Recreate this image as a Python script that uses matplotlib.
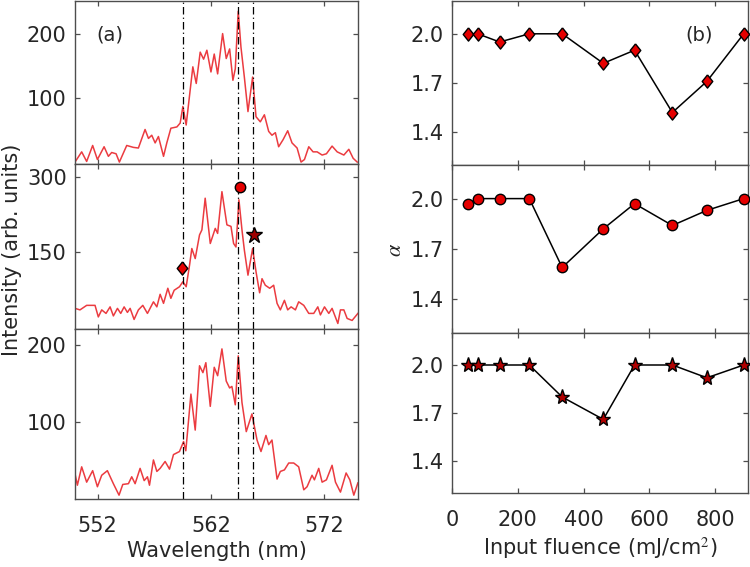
import matplotlib
matplotlib.use("Agg")
import matplotlib.pyplot as plt

plt.rcParams['font.family'] = ['DejaVu Sans']
plt.rcParams['mathtext.fontset'] = 'stix'

# Spectra (wavelength in nm, intensity in arb. units)
wl_top = [550.00, 550.59, 551.03, 551.56, 551.98, 552.57, 552.95, 553.24, 553.63, 553.92,
          554.57, 555.16, 555.60, 556.19, 556.49, 556.78, 557.08, 557.37, 557.82, 558.11,
          558.47, 559.00, 559.29, 559.53, 559.82, 560.41, 560.71, 561.06, 561.36, 561.65,
          562.01, 562.30, 562.60, 563.04, 563.36, 563.66, 563.95, 564.16, 564.42, 564.66,
          564.96, 565.28, 565.69, 565.99, 566.37, 566.73, 567.11, 567.40, 567.70, 567.99,
          568.38, 568.79, 569.17, 569.62, 569.97, 570.27, 570.65, 571.03, 571.39, 571.83,
          572.21, 572.71, 573.16, 573.75, 574.19, 574.57, 574.93]
int_top = [0, 16, 1, 26, 4, 24, 9, 15, 13, 0,
           26, 23, 22, 51, 37, 42, 30, 40, 9, 30,
           53, 55, 61, 87, 58, 149, 123, 172, 161, 175,
           141, 169, 138, 201, 162, 177, 128, 146, 236, 180,
           133, 79, 133, 71, 63, 74, 48, 42, 46, 24,
           35, 49, 30, 22, 0, 4, 24, 16, 16, 11,
           13, 25, 16, 11, 20, 6, 0]

wl_mid = [550.00, 550.44, 551.03, 551.77, 552.06, 552.36, 552.74, 553.10, 553.39, 553.75,
          554.04, 554.34, 554.63, 554.87, 555.22, 555.60, 555.99, 556.40, 556.93, 557.23,
          557.52, 557.82, 558.20, 558.47, 558.76, 559.23, 559.53, 559.82, 560.12, 560.32,
          560.62, 561.00, 561.21, 561.50, 561.95, 562.39, 562.60, 562.98, 563.42, 563.78,
          564.01, 564.22, 564.48, 564.75, 564.96, 565.28, 565.69, 565.99, 566.31, 566.52,
          566.81, 567.20, 567.55, 567.85, 568.14, 568.50, 568.79, 569.09, 569.47, 569.76,
          570.21, 570.65, 571.09, 571.45, 571.68, 572.04, 572.42, 572.71, 573.22, 573.45,
          573.75, 574.04, 574.48, 574.99]
int_mid = [38, 35, 44, 44, 21, 35, 28, 41, 23, 38,
           28, 41, 30, 38, 16, 35, 44, 28, 51, 41,
           66, 48, 78, 58, 74, 81, 91, 81, 124, 157,
           137, 184, 194, 257, 167, 197, 187, 270, 204, 201,
           167, 160, 254, 194, 154, 104, 157, 111, 69, 97,
           84, 78, 84, 48, 35, 54, 35, 41, 35, 51,
           44, 28, 28, 41, 25, 41, 28, 38, 8, 35,
           35, 18, 14, 28]

wl_bot = [550.00, 550.21, 550.59, 551.03, 551.56, 551.98, 552.36, 552.86, 553.39, 553.89,
          554.22, 554.72, 555.01, 555.31, 555.75, 556.11, 556.40, 556.58, 556.93, 557.23,
          557.52, 557.96, 558.35, 558.70, 559.23, 559.59, 559.79, 560.24, 560.62, 561.00,
          561.30, 561.56, 561.95, 562.30, 562.60, 562.98, 563.36, 563.66, 563.86, 564.16,
          564.42, 564.75, 565.13, 565.63, 566.08, 566.43, 566.87, 567.11, 567.40, 567.85,
          568.14, 568.50, 568.88, 569.32, 569.76, 570.21, 570.50, 570.94, 571.15, 571.53,
          571.83, 572.21, 572.71, 573.01, 573.45, 573.95, 574.28, 574.63, 574.99]
int_bot = [32, 17, 41, 21, 36, 15, 30, 36, 19, 4,
           18, 19, 28, 19, 39, 23, 28, 17, 50, 35,
           39, 48, 38, 57, 61, 74, 62, 136, 89, 173,
           164, 177, 120, 171, 160, 195, 153, 144, 146, 122,
           186, 125, 87, 110, 76, 61, 82, 70, 76, 25,
           35, 37, 46, 46, 41, 11, 15, 30, 24, 39,
           21, 24, 43, 21, 8, 33, 24, 4, 20]

# Reference wavelengths (dash-dot lines) and marked points
ref_lines = [559.55, 564.4, 565.7]
mark_wl = [559.44, 564.6, 565.78]
mark_int = [119, 279, 184]

# Exponent alpha vs input fluence
fluence = [50, 78, 145, 235, 335, 460, 555, 670, 775, 887]
alpha_diamond = [2.0, 2.0, 1.95, 2.0, 2.0, 1.82, 1.90, 1.52, 1.71, 2.0]
alpha_circle = [1.97, 2.0, 2.0, 2.0, 1.59, 1.82, 1.97, 1.84, 1.93, 2.0]
alpha_star = [2.0, 2.0, 2.0, 2.0, 1.80, 1.66, 2.0, 2.0, 1.92, 2.0]

red_line = '#eb3b40'
red_fill = '#e50000'
diamond = [(0, 1), (0.8, 0), (0, -1), (-0.8, 0), (0, 1)]
txt = '#262626'

fig = plt.figure(figsize=(7.5, 5.67), dpi=100)
W, H = 750.0, 567.0


def box(x0, x1, y0, y1):
    return [x0 / W, 1 - y1 / H, (x1 - x0) / W, (y1 - y0) / H]


def style(ax):
    for s in ax.spines.values():
        s.set_color('#4d4d4d')
        s.set_linewidth(1.0)
    ax.tick_params(direction='in', top=True, right=True, length=3.5, width=0.9,
                   labelsize=15, colors='#4d4d4d', labelcolor=txt)
    ax.tick_params(axis='x', pad=12)
    ax.tick_params(axis='y', pad=6)


left_boxes = [box(75, 358, 1, 164), box(75, 358, 164, 329), box(75, 358, 329, 499)]
spectra = [(wl_top, int_top, (-3, 252), [100, 200]),
           (wl_mid, int_mid, (-3, 325), [150, 300]),
           (wl_bot, int_bot, (-1, 221), [100, 200])]

for i, (b, (wl, it, yl, yt)) in enumerate(zip(left_boxes, spectra)):
    ax = fig.add_axes(b)
    ax.plot(wl, it, color=red_line, lw=1.1)
    for x in ref_lines:
        ax.axvline(x, color='black', lw=0.9, dashes=(6, 2.5, 1, 2.5))
    ax.set_xlim(550, 575)
    ax.set_ylim(*yl)
    ax.set_yticks(yt)
    ax.set_xticks([552, 562, 572])
    style(ax)
    if i < 2:
        ax.set_xticklabels([])
    else:
        ax.set_xlabel('Wavelength (nm)', fontsize=15, color=txt, labelpad=4)
    if i == 0:
        ax.text(0.075, 0.76, '(a)', transform=ax.transAxes, fontsize=14, color=txt)
    if i == 1:
        ax.plot(mark_wl[0], mark_int[0], marker=diamond, ms=9.5, mfc=red_fill, mec='black', mew=1, ls='none')
        ax.plot(mark_wl[1], mark_int[1], marker='o', ms=7.5, mfc=red_fill, mec='black', mew=1, ls='none')
        ax.plot(mark_wl[2], mark_int[2], marker='*', ms=12, mfc='#a00000', mec='black', mew=1, ls='none')

fig.text(12 / W, 1 - 250 / H, 'Intensity (arb. units)', rotation=90, ha='center', va='center',
         fontsize=15, color=txt)

right_boxes = [box(452, 748, 1, 165), box(452, 748, 165, 333), box(452, 748, 333, 493)]
series = [(alpha_diamond, diamond, 9.5, red_fill),
          (alpha_circle, 'o', 7.5, red_fill),
          (alpha_star, '*', 11, '#b00000')]

for i, (b, (vals, mk, ms, fc)) in enumerate(zip(right_boxes, series)):
    ax = fig.add_axes(b)
    ax.plot(fluence, vals, color='black', lw=1.1, marker=mk, ms=ms, mfc=fc, mec='black', mew=1,
            clip_on=False, zorder=3)
    ax.set_xlim(0, 900)
    ax.set_ylim(1.2, 2.2)
    ax.set_yticks([1.4, 1.7, 2.0])
    ax.set_yticklabels(['1.4', '1.7', '2.0'])
    ax.set_xticks([0, 200, 400, 600, 800])
    style(ax)
    if i < 2:
        ax.set_xticklabels([])
    else:
        ax.set_xlabel('Input fluence (mJ/cm$^2$)', fontsize=15, color=txt, labelpad=4)
    if i == 0:
        ax.text(0.79, 0.76, '(b)', transform=ax.transAxes, fontsize=14, color=txt)

fig.text(395 / W, 1 - 250 / H, r'$\alpha$', rotation=90, ha='center', va='center',
         fontsize=16, color=txt)

fig.savefig('out.png', dpi=100)
